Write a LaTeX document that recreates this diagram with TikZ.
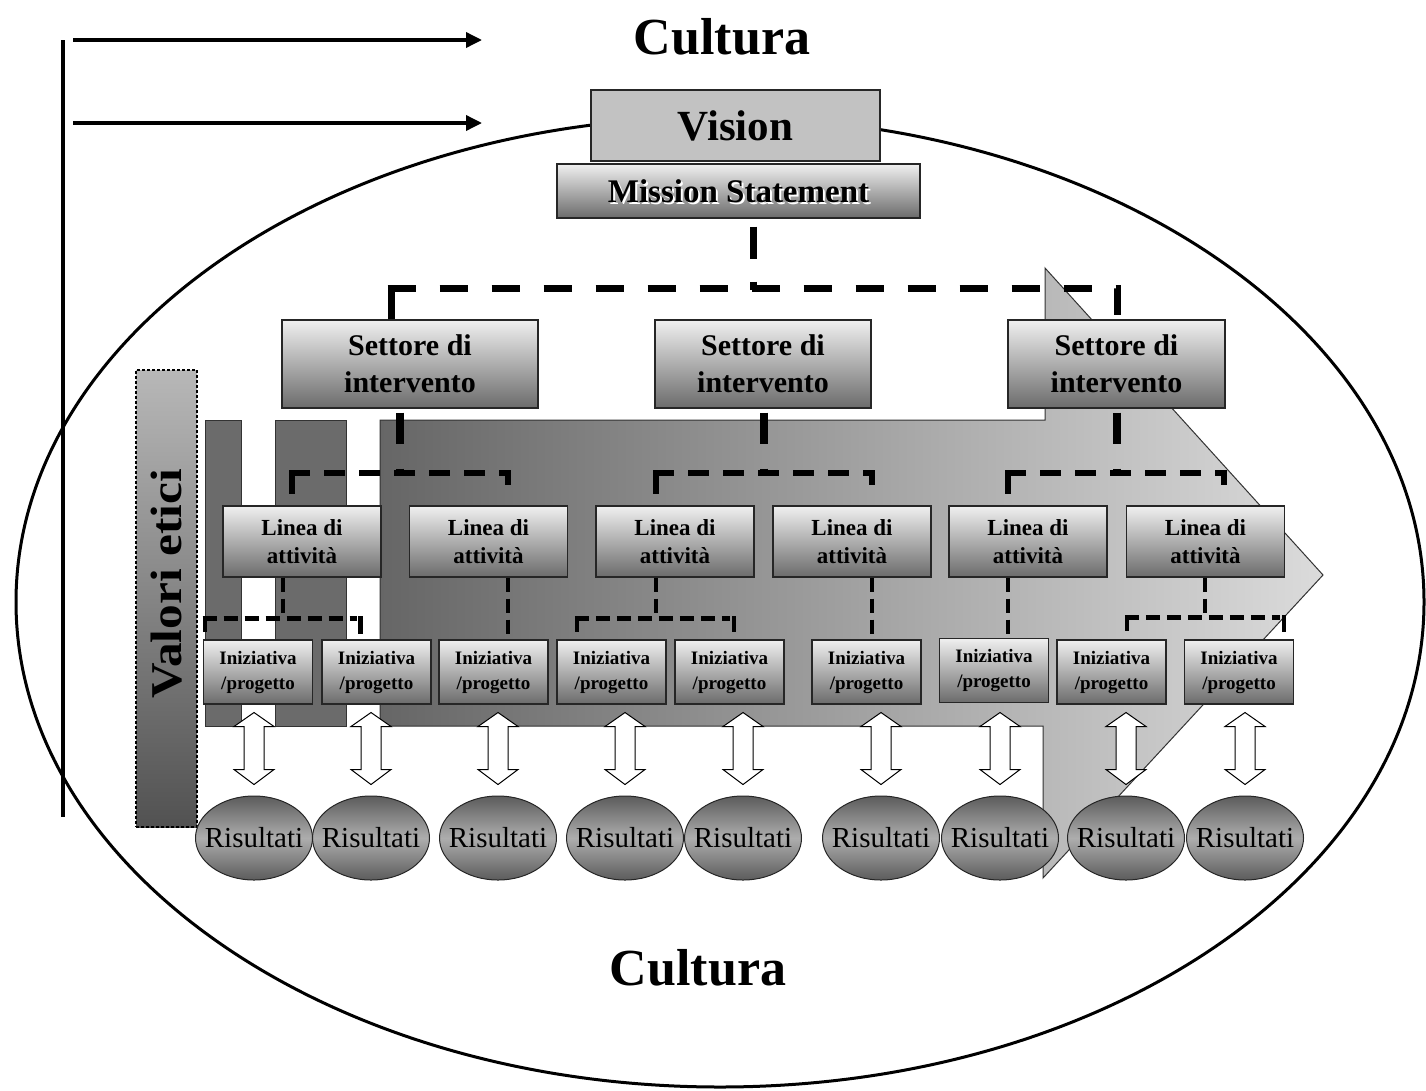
\documentclass[tikz,border=0pt]{standalone}
\usepackage{fontspec}
\setmainfont{Liberation Serif}
\usetikzlibrary{arrows.meta,calc,shapes.geometric}
\definecolor{boxtop}{gray}{0.94}
\definecolor{boxbot}{gray}{0.42}
\definecolor{visfill}{gray}{0.76}
\definecolor{barfill}{gray}{0.42}
\definecolor{arrL}{gray}{0.40}
\definecolor{arrM}{gray}{0.68}
\definecolor{arrR}{gray}{0.86}
\definecolor{valtop}{gray}{0.72}
\definecolor{valbot}{gray}{0.32}
\definecolor{risA}{gray}{0.36}
\definecolor{risB}{gray}{0.68}
\newcommand\dblArrow[1]{\draw[dbl] ($(#1.north)+(0,-83)$) -- ++(20,14) -- ++(-10,0) -- ++(0,43) -- ++(10,0) -- ++(-20,15) -- ++(-20,-15) -- ++(10,0) -- ++(0,-43) -- ++(-10,0) -- cycle;}
\begin{document}
\begin{tikzpicture}[x=1pt,y=-1pt,
  gbox/.style={draw=black!85, line width=1.2pt, top color=boxtop, bottom color=boxbot, inner sep=0pt, align=center},
  setbox/.style={gbox, minimum height=88pt, font=\fontsize{30}{37}\selectfont\bfseries},
  linbox/.style={gbox, minimum width=158pt, minimum height=71pt, font=\fontsize{23}{28}\selectfont\bfseries},
  inibox/.style={gbox, minimum width=109pt, minimum height=64pt, font=\fontsize{19}{25}\selectfont\bfseries},
  risell/.style={ellipse, draw=black!85, line width=1pt, top color=risA, bottom color=risA, middle color=risB, minimum width=117pt, minimum height=84pt, inner sep=0pt, font=\fontsize{29}{32}\selectfont},
  bar/.style={draw=black!80, line width=0.8pt, fill=barfill},
  dbl/.style={draw=black, line width=1pt, fill=white, line join=miter},
  d1/.style={line width=7pt, dash pattern=on 28pt off 24pt},
  d1stem/.style={line width=7pt, dash pattern=on 0pt off 8pt on 32pt off 23pt on 30pt},
  d2stem/.style={line width=8pt, dash pattern=on 0pt off 4pt on 31pt off 25pt on 20pt},
  d2/.style={line width=6pt, dash pattern=on 21pt off 14pt},
  d3/.style={line width=4.5pt, dash pattern=on 14pt off 7pt},
  d3solid/.style={line width=4.5pt},
  toparrow/.style={line width=3.5pt, -{Triangle[length=16pt,width=15pt]}},
  bigtext/.style={font=\fontsize{52}{56}\selectfont\bfseries}
]
\useasboundingbox (0,0) rectangle (1426,1090);
% big ellipse
\draw[line width=3pt] (720,602) ellipse [x radius=704pt, y radius=485pt];
% big gray arrow
\path[draw=black!80, line width=1pt, left color=arrL, middle color=arrM, right color=arrR]
  (380,420) -- (1045,420) -- (1045,268) -- (1323,575) -- (1043,878) -- (1043,726) -- (380,726) -- cycle;
% dark bars
\draw[bar] (205,420) rectangle (241,726);
\draw[bar] (275,420) rectangle (346,726);
% valori etici
\node[draw=black, line width=1.3pt, dash pattern=on 3pt off 2pt, top color=valtop, bottom color=valbot, minimum width=61pt, minimum height=457pt, inner sep=0pt] (valbox) at (166.5,598.5) {};
\node[rotate=90, font=\fontsize{44}{48}\selectfont\bfseries] (valtext) at (167,584) {\scalebox{1.12}[1]{Valori etici}};
% left line and top arrows
\draw[line width=3.5pt] (63,40) -- (63,817);
\coordinate (a1s) at (73,40); \coordinate (a1e) at (482,40);
\coordinate (a2s) at (73,123); \coordinate (a2e) at (482,123);
\draw[toparrow] (a1s) -- (a1e);
\draw[toparrow] (a2s) -- (a2e);
% Cultura labels
\node[bigtext] (cult1) at (722,37) {Cultura};
\node[bigtext] (cult2) at (698,968) {Cultura};
% vision and mission
\node[draw=black!85, line width=1.3pt, fill=visfill, minimum width=289pt, minimum height=71pt, inner sep=0pt, font=\fontsize{43}{46}\selectfont\bfseries] (vision) at (735.5,125.5) {Vision};
\node[gbox, minimum width=363pt, minimum height=54pt] (mission) at (738.5,191) {};
\node[text=white, font=\fontsize{33}{36}\selectfont\bfseries] (misshadow) at (740.5,193) {Mission Statement};
\node[font=\fontsize{33}{36}\selectfont\bfseries] (misstext) at (738.5,191) {Mission Statement};
% settori
\node[setbox, minimum width=256pt] (S1) at (410,364) {Settore di\\intervento};
\node[setbox, minimum width=216pt] (S2) at (763,364) {Settore di\\intervento};
\node[setbox, minimum width=217pt] (S3) at (1116.5,364) {Settore di\\intervento};
% linee
\node[linbox] (L1) at (302,541.5) {Linea di\\attività};
\node[linbox] (L2) at (488.5,541.5) {Linea di\\attività};
\node[linbox] (L3) at (675,541.5) {Linea di\\attività};
\node[linbox] (L4) at (852,541.5) {Linea di\\attività};
\node[linbox] (L5) at (1028,541.5) {Linea di\\attività};
\node[linbox] (L6) at (1205.5,541.5) {Linea di\\attività};
% iniziative
\node[inibox] (I1) at (258,672) {Iniziativa\\/progetto};
\node[inibox] (I2) at (376.5,672) {Iniziativa\\/progetto};
\node[inibox] (I3) at (493.5,672) {Iniziativa\\/progetto};
\node[inibox] (I4) at (611.5,672) {Iniziativa\\/progetto};
\node[inibox] (I5) at (729.5,672) {Iniziativa\\/progetto};
\node[inibox] (I6) at (866.5,672) {Iniziativa\\/progetto};
\node[inibox] (I7) at (994,670.5) {Iniziativa\\/progetto};
\node[inibox] (I8) at (1111.5,672) {Iniziativa\\/progetto};
\node[inibox] (I9) at (1239,672) {Iniziativa\\/progetto};
% risultati
\node[risell] (R1) at (254,838) {\makebox[0pt]{Risultati}};
\node[risell] (R2) at (371,838) {\makebox[0pt]{Risultati}};
\node[risell] (R3) at (498,838) {\makebox[0pt]{Risultati}};
\node[risell] (R4) at (625,838) {\makebox[0pt]{Risultati}};
\node[risell] (R5) at (743,838) {\makebox[0pt]{Risultati}};
\node[risell] (R6) at (881,838) {\makebox[0pt]{Risultati}};
\node[risell] (R7) at (1000,838) {\makebox[0pt]{Risultati}};
\node[risell] (R8) at (1126,838) {\makebox[0pt]{Risultati}};
\node[risell] (R9) at (1245,838) {\makebox[0pt]{Risultati}};
% level 1 connectors
\draw[d1stem] ([xshift=14.5pt]mission.south) -- ++(0,71);
\coordinate (k1) at ([xshift=-19pt,yshift=31pt]S1.north);
\draw[line width=7pt] ([xshift=-19pt]S1.north) -- ([yshift=-3.5pt]k1);
\draw[d1] ([xshift=-3.5pt]k1) -- ([xshift=0.5pt,yshift=31pt]S3.north) -- ([xshift=0.5pt]S3.north);
% level 2 connectors
\draw[d2stem] ([xshift=-10pt]S1.south) -- ++(0,66);
\coordinate (k2) at ([xshift=-10pt,yshift=32pt]L1.north);
\draw[d2] (k2) -- ([xshift=-10pt,yshift=11pt]L1.north);
\draw[d2] ([xshift=-3pt]k2) -- ([xshift=19.5pt,yshift=32pt]L2.north) -- ([xshift=19.5pt,yshift=11pt]L2.north);
\draw[d2stem] ([xshift=1pt]S2.south) -- ++(0,66);
\coordinate (k3) at ([xshift=-19pt,yshift=32pt]L3.north);
\draw[d2] (k3) -- ([xshift=-19pt,yshift=11pt]L3.north);
\draw[d2] ([xshift=-3pt]k3) -- ([xshift=20pt,yshift=32pt]L4.north) -- ([xshift=20pt,yshift=11pt]L4.north);
\draw[d2stem] ([xshift=0.5pt]S3.south) -- ++(0,66);
\coordinate (k4) at ([xshift=-20pt,yshift=32pt]L5.north);
\draw[d2] (k4) -- ([xshift=-20pt,yshift=11pt]L5.north);
\draw[d2] ([xshift=-3pt]k4) -- ([xshift=18.5pt,yshift=32pt]L6.north) -- ([xshift=18.5pt,yshift=11pt]L6.north);
% level 3 connectors
\draw[d3] ([xshift=-19pt]L1.south) -- ++(0,42);
\coordinate (k5) at ([xshift=2pt,yshift=21pt]I1.north west);
\coordinate (k5r) at ([xshift=-16pt,yshift=21pt]I2.north);
\draw[d3] (k5) -- ([xshift=2pt,yshift=7pt]I1.north west);
\draw[d3] ([xshift=-2.25pt]k5) -- ([xshift=-4pt]k5r);
\draw[d3solid] ([yshift=2.25pt]k5r) -- ([xshift=-16pt,yshift=5pt]I2.north);
\draw[d3] ([xshift=19.5pt]L2.south) -- ([xshift=14.5pt]I3.north);
\draw[d3] ([xshift=-19pt]L3.south) -- ++(0,42);
\coordinate (k6) at ([xshift=-34.5pt,yshift=21pt]I4.north);
\coordinate (k6r) at ([xshift=4.5pt,yshift=21pt]I5.north);
\draw[d3] (k6) -- ([xshift=-34.5pt,yshift=7pt]I4.north);
\draw[d3] ([xshift=-2.25pt]k6) -- ([xshift=-4pt]k6r);
\draw[d3solid] ([yshift=2.25pt]k6r) -- ([xshift=4.5pt,yshift=7pt]I5.north);
\draw[d3] ([xshift=20pt]L4.south) -- ([xshift=5.5pt]I6.north);
\draw[d3] ([xshift=-20pt]L5.south) -- ([xshift=14pt]I7.north);
\draw[d3] ([xshift=-0.5pt]L6.south) -- ++(0,41);
\coordinate (k7) at ([xshift=15.5pt,yshift=22pt]I8.north);
\coordinate (k7r) at ([xshift=45pt,yshift=22pt]I9.north);
\draw[d3] (k7) -- ([xshift=15.5pt,yshift=7pt]I8.north);
\draw[d3] ([xshift=-2.25pt]k7) -- ([xshift=-4pt]k7r);
\draw[d3solid] ([yshift=2.25pt]k7r) -- ([xshift=45pt,yshift=7pt]I9.north);
% double arrows
\dblArrow{R1}\dblArrow{R2}\dblArrow{R3}\dblArrow{R4}\dblArrow{R5}
\dblArrow{R6}\dblArrow{R7}\dblArrow{R8}\dblArrow{R9}
\end{tikzpicture}
\end{document}
